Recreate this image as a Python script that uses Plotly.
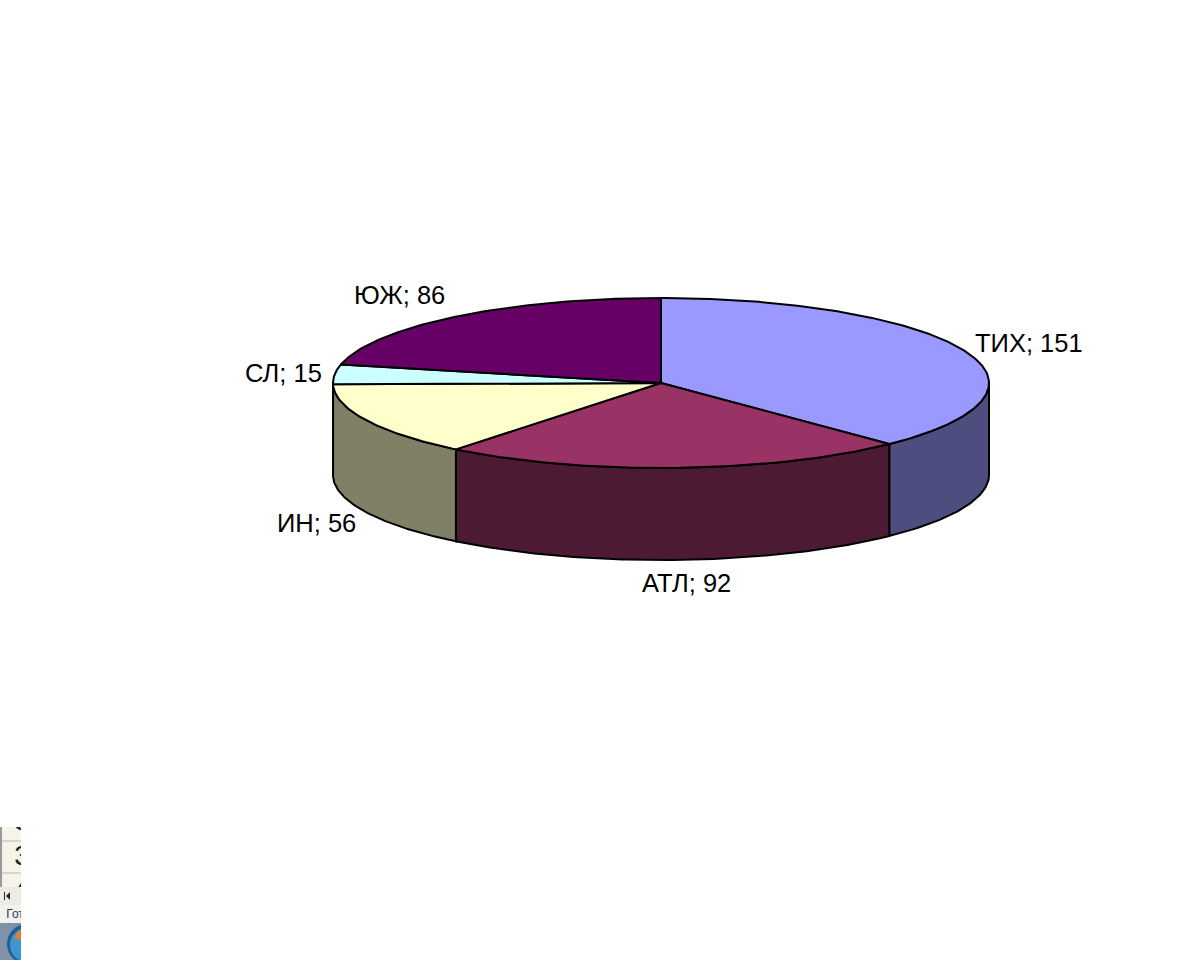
import numpy as np
import plotly.graph_objects as go

# Data
categories = ["ТИХ", "АТЛ", "ИН", "СЛ", "ЮЖ"]
values = [151, 92, 56, 15, 86]
top_colors = ["#9999FF", "#993366", "#FFFFCC", "#CCFFFF", "#660066"]
side_colors = ["#4D4D80", "#4D1A33", "#808066", "#668080", "#330033"]
label_positions = [(1029, 343), (686, 583), (316, 523), (283, 373), (399, 295)]

# Remnant text of the screenshot in the corner
remnant_text = ["3", "3", "4", "Гот"]
remnant_x = [22, 22, 22, 15]
remnant_y = [823, 858, 891, 915]
remnant_size = [28, 28, 28, 12]
remnant_color = ["#222222", "#222222", "#222222", "#1F3864"]

# Pie geometry in page pixels
CX, CY, RX, RY, DEPTH = 661, 383, 328, 85, 92
FONT = "Liberation Sans, Arial, sans-serif"


def ell(a):
    a = np.asarray(a, dtype=float)
    return CX + RX * np.sin(a), CY - RY * np.cos(a)


def arc(a0, a1):
    return np.linspace(a0, a1, max(int(abs(a1 - a0) * 80), 2))


fig = go.Figure()
fracs = np.cumsum([0] + values) / sum(values) * 2 * np.pi


def poly(x, y, fill, lw=2):
    fig.add_trace(go.Scatter(x=list(x), y=list(y), mode="lines", fill="toself", fillcolor=fill,
                             line=dict(color="black", width=lw), hoverinfo="skip", showlegend=False))


# Sides: only the part of each slice facing the viewer
for i in range(len(values)):
    a0, a1 = max(fracs[i], np.pi / 2), min(fracs[i + 1], 3 * np.pi / 2)
    if a1 <= a0:
        continue
    t = arc(a0, a1)
    x, y = ell(t)
    poly(np.r_[x, x[::-1], x[0]], np.r_[y, y[::-1] + DEPTH, y[0]], side_colors[i])

# Tops
for i in range(len(values)):
    x, y = ell(arc(fracs[i], fracs[i + 1]))
    poly(np.r_[CX, x, CX], np.r_[CY, y, CY], top_colors[i])

# Labels
for c, v, (lx, ly) in zip(categories, values, label_positions):
    fig.add_annotation(x=lx, y=ly, text=f"{c}; {v}", showarrow=False,
                       font=dict(family=FONT, size=25.5, color="black"), xanchor="center", yanchor="middle")

# Screenshot remnant text, below the masking shapes so it is cropped like the reference
fig.add_trace(go.Scatter(x=remnant_x, y=remnant_y, text=remnant_text, mode="text",
                         textfont=dict(family=FONT, size=remnant_size, color=remnant_color),
                         textposition="middle center", hoverinfo="skip", showlegend=False))

# Screenshot remnant in the lower-left corner
shapes = [
    dict(type="rect", x0=0, x1=21, y0=827, y1=887, fillcolor="#F6F4E8", line_width=0, layer="below"),
    dict(type="line", x0=0, x1=21, y0=841, y1=841, line=dict(color="#B8B6AA", width=1), layer="below"),
    dict(type="line", x0=0, x1=21, y0=873, y1=873, line=dict(color="#B8B6AA", width=1), layer="below"),
    dict(type="rect", x0=0, x1=21, y0=905, y1=923, fillcolor="#F2F1EA", line_width=0, layer="below"),
    dict(type="rect", x0=0, x1=40, y0=790, y1=827, fillcolor="white", line_width=0, layer="above"),
    dict(type="rect", x0=0, x1=2, y0=827, y1=887, fillcolor="#9A9A9A", line_width=0, layer="above"),
    dict(type="rect", x0=0, x1=21, y0=887, y1=905, fillcolor="#ECEBE4", line_width=0, layer="above"),
    dict(type="rect", x0=4, x1=5, y0=892, y1=900, fillcolor="#222222", line_width=0, layer="above"),
    dict(type="path", path="M 6 896 L 10 892 L 10 900 Z", fillcolor="#222222", line_width=0, layer="above"),
    dict(type="rect", x0=0, x1=21, y0=923, y1=960, fillcolor="#8092A8", line_width=0, layer="above"),
    dict(type="circle", x0=7, x1=47, y0=924, y1=964, fillcolor="#1F5F96", line_width=0, layer="above"),
    dict(type="circle", x0=10, x1=44, y0=928, y1=962, fillcolor="#3C98CC", line_width=0, layer="above"),
    dict(type="path", path="M 14 938 Q 17 931 22 929 L 22 941 Z", fillcolor="#D9803A", line_width=0, layer="above"),
    dict(type="rect", x0=21, x1=48, y0=820, y1=965, fillcolor="white", line_width=0, layer="above"),
]

fig.update_layout(
    width=1200, height=960, margin=dict(l=0, r=0, t=0, b=0),
    paper_bgcolor="white", plot_bgcolor="white", shapes=shapes, showlegend=False,
    xaxis=dict(range=[0, 1200], visible=False, fixedrange=True),
    yaxis=dict(range=[960, 0], visible=False, fixedrange=True),
)
fig.write_html("out.html", config=dict(displayModeBar=False),
               post_script="document.body.style.margin='0';document.documentElement.style.overflow='hidden';")
